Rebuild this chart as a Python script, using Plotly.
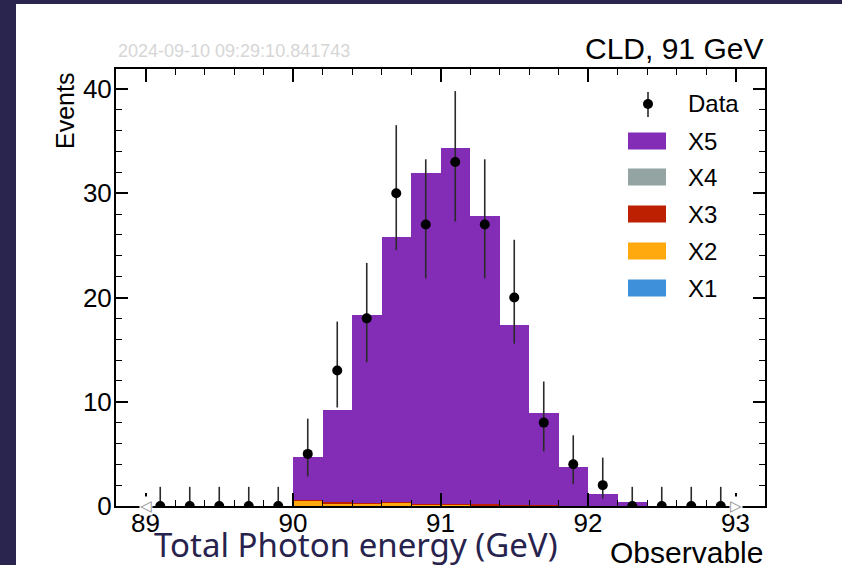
import plotly.graph_objects as go

# ---------------- data ----------------
bin_centers = [89.1, 89.3, 89.5, 89.7, 89.9, 90.1, 90.3, 90.5, 90.7, 90.9,
               91.1, 91.3, 91.5, 91.7, 91.9, 92.1, 92.3, 92.5, 92.7, 92.9]
bin_width = 0.2

stack_total = [0, 0, 0, 0, 0, 4.7, 9.2, 18.3, 25.8, 31.9,
               34.3, 27.8, 17.4, 8.9, 3.7, 1.15, 0.4, 0, 0, 0]
x1_vals = [0] * 20
x2_vals = [0, 0, 0, 0, 0, 0.55, 0.25, 0.2, 0.3, 0.1,
           0.1, 0.05, 0.0, 0.0, 0, 0, 0, 0, 0, 0]
x3_vals = [0, 0, 0, 0, 0, 0.05, 0.1, 0.1, 0.05, 0.12,
           0.12, 0.15, 0.1, 0.05, 0, 0, 0, 0, 0, 0]
x4_vals = [0] * 20
x5_vals = [round(t - a - b - c - d, 3) for t, a, b, c, d in
           zip(stack_total, x1_vals, x2_vals, x3_vals, x4_vals)]

data_counts = [0, 0, 0, 0, 0, 5, 13, 18, 30, 27,
               33, 27, 20, 8, 4, 2, 0, 0, 0, 0]
err_up = [1.84, 1.84, 1.84, 1.84, 1.84, 3.38, 4.69, 5.32, 6.53, 6.26,
          6.80, 6.26, 5.54, 3.94, 2.78, 2.64, 1.84, 1.84, 1.84, 1.84]
err_down = [0, 0, 0, 0, 0, 2.16, 3.55, 4.20, 5.44, 5.16,
            5.71, 5.16, 4.43, 2.76, 1.91, 1.29, 0, 0, 0, 0]

range_arrows_x = [89.0, 93.0]
range_arrows_glyph = ["\u25C1", "\u25B7"]
x_ticks = [89, 90, 91, 92, 93]
y_ticks = [0, 10, 20, 30, 40]

series_names = ["X1", "X2", "X3", "X4", "X5"]
series_vals = [x1_vals, x2_vals, x3_vals, x4_vals, x5_vals]
series_colors = ["#3f90da", "#ffa90e", "#bd1f01", "#94a4a2", "#832db6"]

# ---------------- layout geometry ----------------
W, H = 842, 565
L, R, T, B = 116, 765, 69, 506
PW, PH = R - L, B - T


def px(xp):
    return (xp - L) / PW


def py(yp):
    return (B - yp) / PH


FONT = "Liberation Sans, Arial, Helvetica, sans-serif"

fig = go.Figure()

for name, vals, col in zip(series_names, series_vals, series_colors):
    fig.add_trace(go.Bar(x=bin_centers, y=vals, width=bin_width, name=name,
                         marker=dict(color=col, line=dict(width=0)),
                         showlegend=False))

fig.add_trace(go.Scatter(
    x=bin_centers, y=data_counts, mode="markers", name="Data",
    marker=dict(color="black", size=10),
    error_y=dict(type="data", symmetric=False, array=err_up,
                 arrayminus=err_down, color="#2a2a2a", thickness=1.6, width=0),
    cliponaxis=True, showlegend=False))

shapes = []
# white panel
shapes.append(dict(type="rect", xref="paper", yref="paper",
                   x0=px(16), x1=px(W + 5), y0=py(4), y1=py(H + 5),
                   fillcolor="white", line=dict(width=0), layer="below"))

annotations = []
# range arrows on the x axis (drawn above the axis line)
for ax_x, glyph in zip(range_arrows_x, range_arrows_glyph):
    annotations.append(dict(text=glyph, xref="x", yref="y", x=ax_x, y=0,
                            xanchor="center", yanchor="middle", showarrow=False,
                            bgcolor="white", borderpad=0,
                            font=dict(family="DejaVu Sans", size=15, color="#8a8a8a")))

# custom legend
leg_x0, leg_x1 = 628, 666
leg_text_x = 686
leg_rows = [("X5", 141), ("X4", 177), ("X3", 214), ("X2", 251), ("X1", 288)]
color_of = dict(zip(series_names, series_colors))
for nm, yc in leg_rows:
    shapes.append(dict(type="rect", xref="paper", yref="paper",
                       x0=px(leg_x0), x1=px(leg_x1), y0=py(yc + 8.5), y1=py(yc - 8.5),
                       fillcolor=color_of[nm], line=dict(width=0)))
    annotations.append(dict(text=nm, xref="paper", yref="paper", x=px(leg_text_x),
                            y=py(yc), xanchor="left", yanchor="middle", showarrow=False,
                            font=dict(family=FONT, size=24, color="black")))
# data legend entry
shapes.append(dict(type="line", xref="paper", yref="paper",
                   x0=px(648), x1=px(648), y0=py(92), y1=py(117),
                   line=dict(color="#2a2a2a", width=1.6)))
shapes.append(dict(type="circle", xref="paper", yref="paper",
                   x0=px(643), x1=px(653), y0=py(99), y1=py(109),
                   fillcolor="black", line=dict(width=0)))
annotations.append(dict(text="Data", xref="paper", yref="paper", x=px(leg_text_x),
                        y=py(104), xanchor="left", yanchor="middle", showarrow=False,
                        font=dict(family=FONT, size=24, color="black")))

annotations += [
    dict(text="CLD, 91 GeV", xref="paper", yref="paper", x=1.0, y=py(49),
         xanchor="right", yanchor="middle", showarrow=False,
         font=dict(family=FONT, size=30, color="black")),
    dict(text="2024-09-10 09:29:10.841743", xref="paper", yref="paper", x=px(116),
         y=py(51), xanchor="left", yanchor="middle", showarrow=False,
         font=dict(family=FONT, size=18, color="#d6d6d6")),
    dict(text="Events", xref="paper", yref="paper", x=px(65), y=py(71),
         xanchor="center", yanchor="top", textangle=-90, showarrow=False,
         font=dict(family=FONT, size=25, color="black")),
    dict(text="Observable", xref="paper", yref="paper", x=1.0, y=py(552),
         xanchor="right", yanchor="middle", showarrow=False,
         font=dict(family=FONT, size=30, color="black")),
    dict(text="Total Photon energy (GeV)", xref="paper", yref="paper", x=px(356),
         y=py(544), xanchor="center", yanchor="middle", showarrow=False,
         font=dict(family="Noto Sans, Open Sans, sans-serif", size=33, color="#27234d")),
]

axis_common = dict(showline=True, linecolor="black", linewidth=2, mirror="ticks",
                   ticks="inside", tickcolor="black", tickwidth=1.5,
                   showgrid=False, zeroline=False,
                   tickfont=dict(family=FONT, size=26, color="black"))

fig.update_layout(
    width=W, height=H,
    margin=dict(l=L, r=W - R, t=T, b=H - B, pad=0),
    paper_bgcolor="#29254f", plot_bgcolor="white",
    barmode="stack", bargap=0,
    showlegend=False,
    xaxis=dict(range=[88.8, 93.2], tickvals=x_ticks, ticklen=13,
               ticklabelstandoff=-7,
               minor=dict(dtick=0.2, tick0=89, ticklen=6, tickcolor="black",
                          tickwidth=1.2, ticks="inside"),
               **axis_common),
    yaxis=dict(range=[0, 41.92], tickvals=y_ticks, ticklen=12,
               ticklabelstandoff=-3,
               minor=dict(dtick=2, tick0=0, ticklen=6, tickcolor="black",
                          tickwidth=1.2, ticks="inside"),
               **axis_common),
    shapes=shapes, annotations=annotations,
)

fig.write_html("out.html")
